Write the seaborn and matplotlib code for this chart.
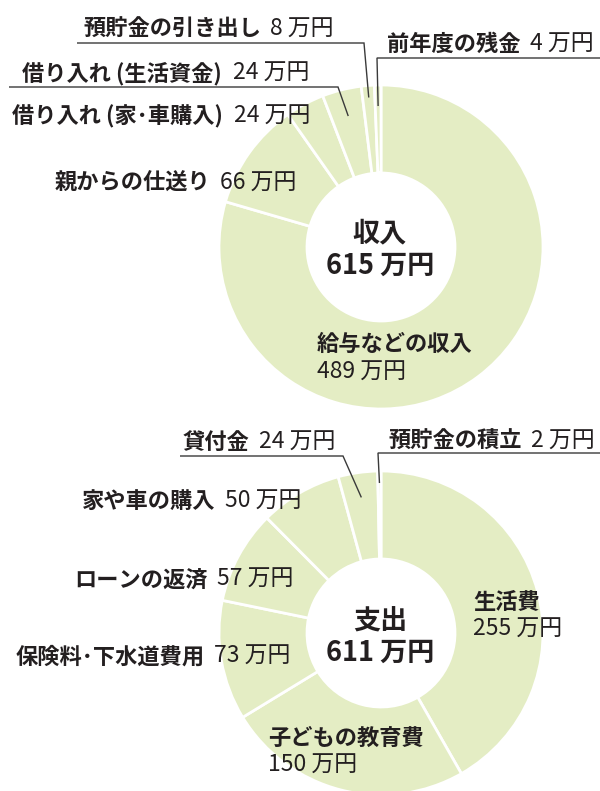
import matplotlib
matplotlib.use("Agg")
import matplotlib.pyplot as plt
import seaborn as sns
import numpy as np

# ---------------- data ----------------
income_labels = ["給与などの収入", "親からの仕送り", "借り入れ (家･車購入)",
                 "借り入れ (生活資金)", "預貯金の引き出し", "前年度の残金"]
income_values = [489, 66, 24, 24, 8, 4]
income_title = "収入"
income_total = "615 万円"

expense_labels = ["生活費", "子どもの教育費", "保険料･下水道費用", "ローンの返済",
                  "家や車の購入", "貸付金", "預貯金の積立"]
expense_values = [255, 150, 73, 57, 50, 24, 2]
expense_title = "支出"
expense_total = "611 万円"
unit = "万円"

# ---------------- style ----------------
sns.set_style("white")
plt.rcParams["font.family"] = ["Noto Sans CJK JP", "DejaVu Sans"]

W, H = 600, 791
FILL = "#e4edc4"
TXT = "#231f20"
LINE = "#3a3a3a"
FS = 16
FS_REG = 16.5
R_OUT, R_IN = 162, 74

fig = plt.figure(figsize=(W / 100, H / 100), dpi=100)
ax = fig.add_axes([0, 0, 1, 1])


def donut(values, cx, cy):
    ax.pie(values, center=(cx, cy), radius=R_OUT, startangle=-90, counterclock=True,
           colors=[FILL] * len(values), frame=True,
           wedgeprops=dict(width=R_OUT - R_IN, edgecolor="white", linewidth=2))


C1 = (381, 247)
C2 = (381, 633)
donut(income_values, *C1)
donut(expense_values, *C2)

ax.set_xlim(0, W)
ax.set_ylim(H, 0)
ax.set_aspect("equal")
ax.set_axis_off()
sns.despine(ax=ax, left=True, bottom=True)

renderer = fig.canvas.get_renderer()


def px(fs):
    return fs * 100 / 72


def two_part(x, yc, bold, reg, fs=FS, gap=0.42):
    yb = yc + 0.37 * px(fs)
    t = ax.text(x, yb, bold, fontsize=fs, fontweight="bold", color=TXT,
                va="baseline", ha="left")
    bb = t.get_window_extent(renderer)
    x1 = ax.transData.inverted().transform((bb.x1, bb.y0))[0]
    ax.text(x1 + gap * px(fs), yb, reg, fontsize=FS_REG, color=TXT,
            va="baseline", ha="left")


def one_line(x, yc, s, bold=False, fs=FS, ha="left"):
    yb = yc + 0.37 * px(fs)
    ax.text(x, yb, s, fontsize=fs, fontweight="bold" if bold else "normal",
            color=TXT, va="baseline", ha=ha)


def slice_point(values, i, rr, c):
    total = sum(values)
    cum = sum(values[:i]) + values[i] / 2
    th = np.deg2rad(-90 + 360 * cum / total)
    return c[0] + rr * np.cos(th), c[1] + rr * np.sin(th)


def leader(values, i, rr, c, elbow, xend):
    p = slice_point(values, i, rr, c)
    ax.plot([p[0], elbow[0], xend], [p[1], elbow[1], elbow[1]],
            color=LINE, lw=1.0, solid_capstyle="butt", solid_joinstyle="miter")


def val(v):
    return f"{v} {unit}"


# ---------------- income labels ----------------
one_line(317, 343, income_labels[0], bold=True)
one_line(317, 370, val(income_values[0]), fs=FS_REG)
two_part(55, 182, income_labels[1], val(income_values[1]))
two_part(12, 115, income_labels[2], val(income_values[2]), gap=0.5)
two_part(22, 72, income_labels[3], val(income_values[3]), gap=0.5)
leader(income_values, 3, 135, C1, (338, 87), 9)
two_part(83, 28, income_labels[4], val(income_values[4]))
leader(income_values, 4, 150, C1, (364, 43), 77)
two_part(387, 43, income_labels[5], val(income_values[5]))
leader(income_values, 5, 141, C1, (377, 58), 600)

one_line(380, 231, income_title, bold=True, fs=19.5, ha="center")
one_line(380, 264, income_total, bold=True, fs=19.5, ha="center")

# ---------------- expense labels ----------------
one_line(473, 601, expense_labels[0], bold=True)
one_line(473, 627, val(expense_values[0]), fs=FS_REG)
one_line(268, 737, expense_labels[1], bold=True)
one_line(268, 763, val(expense_values[1]), fs=FS_REG)
two_part(16, 655, expense_labels[2], val(expense_values[2]))
two_part(74, 578, expense_labels[3], val(expense_values[3]))
two_part(82, 500, expense_labels[4], val(expense_values[4]))
two_part(183, 441, expense_labels[5], val(expense_values[5]))
leader(expense_values, 5, 137, C2, (343, 456), 180)
two_part(388, 440, expense_labels[6], val(expense_values[6]))
leader(expense_values, 6, 150, C2, (378, 453), 600)

one_line(380, 619, expense_title, bold=True, fs=19.5, ha="center")
one_line(380, 651, expense_total, bold=True, fs=19.5, ha="center")

fig.savefig("out.png", dpi=100, facecolor="white")
